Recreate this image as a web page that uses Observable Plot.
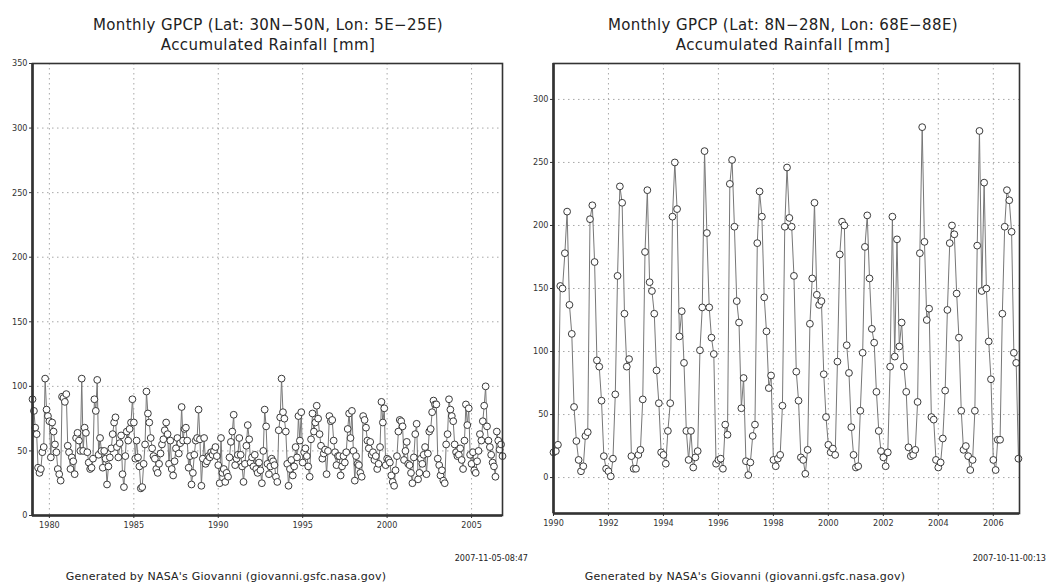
<!DOCTYPE html>
<html><head><meta charset="utf-8">
<script src="https://cdn.jsdelivr.net/npm/d3@7"></script>
<script src="https://cdn.jsdelivr.net/npm/@observablehq/plot@0.6"></script>
<style>
body{margin:0;background:#fff;width:1046px;height:584px;overflow:hidden;position:relative;font-family:"DejaVu Sans",sans-serif;color:#222;}
.title{position:absolute;text-align:center;font-size:15px;line-height:20px;white-space:nowrap;letter-spacing:0.4px;}
.foot{position:absolute;font-size:11px;letter-spacing:0.22px;white-space:nowrap;text-align:center;}
.stamp{position:absolute;font-family:"DejaVu Sans Condensed","DejaVu Sans",sans-serif;font-size:9px;white-space:nowrap;text-align:right;}
.chart{position:absolute;}
</style></head><body>
<script>
// ---------- data ----------
const leftTitle = ["Monthly GPCP (Lat: 30N\u221250N, Lon: 5E\u221225E)", "Accumulated Rainfall [mm]"];
const rightTitle = ["Monthly GPCP (Lat: 8N\u221228N, Lon: 68E\u221288E)", "Accumulated Rainfall [mm]"];
const footerText = "Generated by NASA's Giovanni (giovanni.gsfc.nasa.gov)";
const leftStamp = "2007-11-05-08:47";
const rightStamp = "2007-10-11-00:13";

const leftStart = [1979, 0];   // Jan 1979, monthly
const leftRain = [
  90, 81, 68, 63, 37, 33, 36, 49, 53, 106, 82, 77,
  73, 45, 72, 65, 55, 49, 36, 32, 27, 92, 91, 88,
  94, 54, 49, 36, 45, 42, 32, 60, 64, 58, 50, 106,
  50, 68, 64, 49, 41, 36, 37, 44, 90, 81, 105, 47,
  60, 50, 37, 50, 44, 24, 38, 45, 52, 63, 72, 76,
  53, 45, 56, 62, 32, 22, 46, 65, 58, 67, 72, 90,
  72, 44, 58, 45, 38, 21, 22, 40, 55, 96, 79, 72,
  60, 52, 46, 44, 36, 33, 40, 48, 55, 59, 66, 72,
  63, 40, 58, 36, 31, 42, 52, 60, 48, 56, 84, 58,
  67, 68, 58, 37, 46, 24, 33, 47, 58, 60, 82, 59,
  23, 44, 60, 40, 42, 46, 45, 49, 47, 50, 53, 46,
  39, 25, 60, 33, 36, 26, 33, 30, 45, 57, 65, 78,
  39, 44, 47, 60, 47, 38, 26, 40, 54, 70, 59, 41,
  45, 38, 47, 36, 33, 41, 35, 25, 50, 82, 69, 40,
  32, 38, 44, 42, 39, 30, 26, 66, 76, 106, 80, 75,
  65, 40, 23, 36, 43, 31, 38, 53, 45, 77, 58, 80,
  41, 49, 52, 46, 38, 30, 59, 79, 65, 72, 85, 75,
  63, 54, 44, 48, 51, 32, 50, 77, 73, 74, 58, 49,
  39, 46, 46, 31, 38, 46, 41, 49, 67, 79, 60, 81,
  50, 27, 46, 40, 39, 33, 30, 77, 74, 68, 58, 52,
  57, 47, 49, 43, 46, 36, 40, 53, 88, 72, 83, 39,
  44, 43, 41, 31, 26, 23, 35, 46, 65, 74, 73, 69,
  43, 50, 57, 40, 39, 33, 25, 45, 63, 71, 28, 33,
  44, 40, 47, 53, 32, 48, 65, 67, 80, 89, 86, 86,
  44, 39, 31, 35, 27, 25, 55, 63, 90, 82, 77, 73,
  55, 49, 46, 47, 52, 43, 36, 58, 86, 70, 83, 47,
  40, 49, 35, 33, 42, 50, 63, 58, 73, 85, 100, 69,
  58, 53, 47, 41, 38, 30, 65, 58, 51, 55, 46
];
const leftXDomain = ["1979-01-01", "2006-11-01"];
const leftXTicks = ["1980", "1985", "1990", "1995", "2000", "2005"];
const leftYDomain = [0, 350];
const leftYTicks = [0, 50, 100, 150, 200, 250, 300, 350];

const rightStart = [1990, 0];  // Jan 1990, monthly
const rightRain = [
  20, 21, 26, 152, 150, 178, 211, 137, 114, 56, 29, 14,
  5, 9, 33, 36, 205, 216, 171, 93, 88, 61, 17, 7,
  5, 1, 15, 66, 160, 231, 218, 130, 88, 94, 17, 7,
  7, 18, 22, 62, 179, 228, 155, 148, 130, 85, 59, 20,
  18, 11, 37, 59, 207, 250, 213, 112, 132, 91, 37, 14,
  37, 8, 16, 21, 101, 135, 259, 194, 135, 111, 98, 11,
  14, 15, 7, 42, 34, 233, 252, 199, 140, 123, 55, 79,
  13, 2, 12, 33, 42, 186, 227, 207, 143, 116, 71, 81,
  14, 9, 15, 18, 57, 199, 246, 206, 199, 160, 84, 61,
  16, 14, 3, 22, 122, 158, 218, 145, 137, 140, 82, 48,
  26, 20, 23, 18, 92, 177, 203, 200, 105, 83, 40, 18,
  8, 9, 53, 99, 183, 208, 158, 118, 107, 68, 37, 21,
  16, 9, 20, 88, 207, 96, 189, 104, 123, 88, 68, 24,
  17, 18, 22, 60, 178, 278, 187, 125, 134, 48, 46, 14,
  8, 12, 31, 69, 133, 186, 200, 193, 146, 111, 53, 22,
  25, 17, 6, 14, 53, 184, 275, 148, 234, 150, 108, 78,
  14, 6, 30, 30, 130, 199, 228, 220, 195, 99, 91, 15
];
const rightXDomain = ["1990-01-01", "2006-12-15"];
const rightXTicks = ["1990", "1992", "1994", "1996", "1998", "2000", "2002", "2004", "2006"];
const rightYDomain = [-28.5, 328.5];
const rightYTicks = [0, 50, 100, 150, 200, 250, 300];

// ---------- drawing ----------
function addDiv(cls, text, css) {
  const d = document.createElement("div");
  d.className = cls;
  if (Array.isArray(text)) d.innerHTML = text.map(t => `<div>${t.replace(/</g,"&lt;")}</div>`).join("");
  else d.textContent = text;
  Object.assign(d.style, css);
  document.body.appendChild(d);
  return d;
}

function makeChart(cfg) {
  const data = cfg.values.map((v, i) => ({date: new Date(Date.UTC(cfg.start[0], cfg.start[1] + i, 1)), v}));
  const xDom = cfg.xDomain.map(s => new Date(s + "T00:00:00Z"));
  const xTicks = cfg.xTicks.map(s => new Date(s + "-01-01T00:00:00Z"));
  const gridXTicks = xTicks.filter(t => t > xDom[0]);
  const gridYTicks = cfg.yTicks.filter(t => t > cfg.yDomain[0] && t < cfg.yDomain[1]);
  const ink = "#333";
  const svg = Plot.plot({
    width: cfg.width, height: cfg.height,
    marginLeft: cfg.ml, marginRight: cfg.mr, marginTop: cfg.mt, marginBottom: cfg.mb,
    x: {type: "utc", domain: xDom, label: null},
    y: {domain: cfg.yDomain, label: null},
    style: {fontFamily: '"DejaVu Sans Condensed","DejaVu Sans",sans-serif', fontSize: "9px", color: ink, background: "transparent", overflow: "visible"},
    marks: [
      Plot.gridY(gridYTicks, {stroke: "#a8a8a8", strokeOpacity: 1, strokeWidth: 1, strokeDasharray: "1.5,3.5"}),
      Plot.gridX(gridXTicks, {stroke: "#a8a8a8", strokeOpacity: 1, strokeWidth: 1, strokeDasharray: "1.5,3.5"}),
      Plot.line(data, {x: "date", y: "v", stroke: "#777", strokeWidth: 1}),
      Plot.dot(data, {x: "date", y: "v", r: 3.4, stroke: "#3a3a3a", fill: "white", strokeWidth: 1}),
      Plot.frame({stroke: ink, strokeWidth: 1.6}),
      Plot.ruleX([xDom[0]], {stroke: ink, strokeWidth: 2.6}),
      Plot.ruleY([cfg.yDomain[0]], {stroke: ink, strokeWidth: 2.6}),
      Plot.axisY({ticks: cfg.yTicks, tickSize: 3, tickPadding: 2, tickFormat: d => String(d), label: null}),
      Plot.axisX({ticks: xTicks, tickSize: 3, tickPadding: 3, tickFormat: d3.utcFormat("%Y"), label: null})
    ]
  });
  const wrap = document.createElement("div");
  wrap.className = "chart";
  wrap.style.left = cfg.left + "px";
  wrap.style.top = cfg.top + "px";
  wrap.appendChild(svg);
  document.body.appendChild(wrap);
}

makeChart({values: leftRain, start: leftStart, xDomain: leftXDomain, xTicks: leftXTicks,
  yDomain: leftYDomain, yTicks: leftYTicks,
  left: 0, top: 50, width: 520, height: 490, ml: 32, mr: 18, mt: 13, mb: 25});
makeChart({values: rightRain, start: rightStart, xDomain: rightXDomain, xTicks: rightXTicks,
  yDomain: rightYDomain, yTicks: rightYTicks,
  left: 520, top: 50, width: 526, height: 488, ml: 33, mr: 27, mt: 13, mb: 25});

addDiv("title", leftTitle, {left: "0px", width: "536px", top: "15px"});
addDiv("title", rightTitle, {left: "520px", width: "526px", top: "15px"});
addDiv("foot", footerText, {left: "26px", width: "400px", top: "570px"});
addDiv("foot", footerText, {left: "545px", width: "400px", top: "570px"});
addDiv("stamp", leftStamp, {left: "378px", width: "150px", top: "553px"});
addDiv("stamp", rightStamp, {left: "896px", width: "150px", top: "553px"});
</script>
</body></html>
